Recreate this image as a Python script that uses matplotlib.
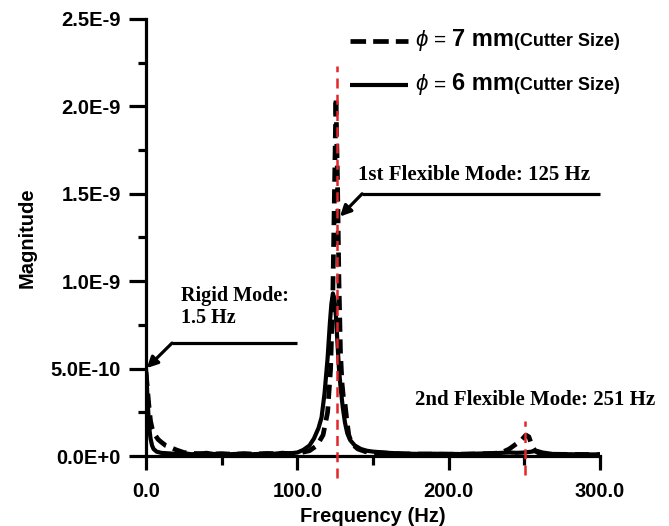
import matplotlib
matplotlib.use("Agg")
import matplotlib.pyplot as plt
from matplotlib.lines import Line2D
from matplotlib.offsetbox import (AnchoredOffsetbox, DrawingArea, HPacker,
                                  TextArea, VPacker)

# ---------------- data ----------------
freq_6mm = [0, 0.5, 1, 1.5, 2, 3, 4, 5, 7, 10, 15, 20, 25, 30, 35, 40, 45, 50, 55, 60,
            65, 70, 75, 80, 85, 90, 95, 100, 104, 108, 111, 114, 116, 118, 120, 121.5,
            122.5, 123.5, 124.5, 125.5, 126.5, 127.5, 128.5, 130, 131.5, 133, 135, 138,
            142, 146, 150, 160, 170, 180, 190, 200, 210, 220, 230, 235, 240, 245, 250,
            255, 258, 262, 266, 270, 280, 290, 300]
mag_6mm = [0.50, 0.42, 0.33, 0.25, 0.17, 0.10, 0.06, 0.04, 0.025, 0.018, 0.015, 0.012,
           0.016, 0.010, 0.013, 0.018, 0.011, 0.014, 0.010, 0.012, 0.015, 0.010, 0.012,
           0.016, 0.013, 0.018, 0.015, 0.020, 0.035, 0.06, 0.10, 0.16, 0.22, 0.36, 0.56,
           0.76, 0.87, 0.93, 0.90, 0.80, 0.65, 0.50, 0.40, 0.28, 0.19, 0.13, 0.09, 0.06,
           0.04, 0.03, 0.025, 0.018, 0.014, 0.012, 0.013, 0.012, 0.011, 0.014, 0.016,
           0.018, 0.020, 0.018, 0.020, 0.025, 0.030, 0.020, 0.015, 0.010, 0.010, 0.009,
           0.009]

freq_7mm = [0, 1, 2, 3, 4, 6, 8, 10, 13, 16, 20, 25, 30, 40, 50, 60, 70, 80, 90, 100,
            108, 113, 117, 120, 122, 123.5, 124.5, 125.5, 126.5, 127.5, 128.5, 129.5,
            130.5, 131.5, 132.5, 134, 136, 140, 145, 150, 170, 200, 220, 230, 235, 240,
            244, 248, 251, 253, 255, 257, 260, 270, 300]
mag_7mm = [0.48, 0.38, 0.28, 0.20, 0.16, 0.12, 0.095, 0.08, 0.06, 0.05, 0.035, 0.02,
           0.015, 0.012, 0.012, 0.011, 0.012, 0.013, 0.014, 0.015, 0.03, 0.06, 0.12,
           0.25, 0.50, 0.95, 1.50, 2.05, 1.60, 1.00, 0.60, 0.42, 0.33, 0.30, 0.22, 0.12,
           0.07, 0.04, 0.025, 0.02, 0.012, 0.010, 0.012, 0.015, 0.020, 0.040, 0.065,
           0.09, 0.12, 0.11, 0.06, 0.03, 0.015, 0.010, 0.008]

scale = 1e-9
mode_freqs = [126.0, 250.5]          # red dashed markers (Hz)
mode_line_top = [2.23, 0.20]         # x1e-9
mode_line_bottom = [-0.126, -0.11]   # x1e-9

xticks = [0, 100, 200, 300]
xtick_labels = ["0.0", "100.0", "200.0", "300.0"]
yticks = [0, 0.5e-9, 1.0e-9, 1.5e-9, 2.0e-9, 2.5e-9]
ytick_labels = ["0.0E+0", "5.0E-10", "1.0E-9", "1.5E-9", "2.0E-9", "2.5E-9"]

legend_sizes = ["7 mm", "6 mm"]
legend_note = "(Cutter Size)"

# annotations
rigid_text = "Rigid Mode:\n1.5 Hz"
rigid_text_xy = (23, 0.761)
rigid_head, rigid_bend, rigid_end = (0.5, 0.503), (17.2, 0.646), (99.8, 0.646)
flex1_text = "1st Flexible Mode: 125 Hz"
flex1_text_xy = (140, 1.579)
flex1_head, flex1_bend, flex1_end = (128.2, 1.37), (142.8, 1.50), (300, 1.50)
flex2_text = "2nd Flexible Mode: 251 Hz"
flex2_text_xy = (177.8, 0.292)

# ---------------- style ----------------
plt.rcParams["font.family"] = ["Liberation Sans", "DejaVu Sans"]
plt.rcParams["mathtext.fontset"] = "custom"
plt.rcParams["mathtext.rm"] = "Liberation Sans"
plt.rcParams["mathtext.it"] = "Liberation Sans:italic"
plt.rcParams["mathtext.bf"] = "Liberation Sans:bold"

W, H = 669, 526
fig = plt.figure(figsize=(W / 100, H / 100), dpi=100)
ax = fig.add_axes([146 / W, (H - 456) / H, 454 / W, 437 / H])

DASH = (3.0, 1.6)
ax.plot(freq_6mm, [v * scale for v in mag_6mm], color="black", lw=3.0,
        solid_capstyle="round", zorder=3)
ax.plot(freq_7mm, [v * scale for v in mag_7mm], color="black", lw=3.4,
        dashes=DASH, zorder=4)
for f, t, b in zip(mode_freqs, mode_line_top, mode_line_bottom):
    ax.plot([f, f], [b * scale, t * scale], color="#e3262b", lw=1.8,
            dashes=(4, 2.5), clip_on=False, zorder=5)

ax.set_xlim(0, 300)
ax.set_ylim(0, 2.5e-9)
ax.set_xticks(xticks)
ax.set_xticklabels(xtick_labels)
ax.set_xticks([50, 150, 250], minor=True)
ax.set_yticks(yticks)
ax.set_yticklabels(ytick_labels)
ax.set_yticks([0.25e-9, 0.75e-9, 1.25e-9, 1.75e-9, 2.25e-9], minor=True)

for s in ["top", "right"]:
    ax.spines[s].set_visible(False)
for s in ["left", "bottom"]:
    ax.spines[s].set_linewidth(2.3)
    ax.spines[s].set_zorder(2)

ax.tick_params(axis="y", which="major", length=12, width=2.3, pad=6,
               labelsize=14.5)
ax.tick_params(axis="y", which="minor", length=6, width=2.3)
ax.tick_params(axis="x", which="major", length=10, width=2.3, pad=9,
               labelsize=14.5)
ax.tick_params(axis="x", which="minor", length=6.5, width=2.3)
for lbl in ax.get_xticklabels() + ax.get_yticklabels():
    lbl.set_fontweight("bold")

ax.set_xlabel("Frequency (Hz)", fontsize=14.5, fontweight="bold", labelpad=4)
ax.set_ylabel("Magnitude", fontsize=14.5, fontweight="bold", labelpad=10)

# legend built from packed boxes (mixed font sizes)
rows = []
for i, size_txt in enumerate(legend_sizes):
    da = DrawingArea(42, 14, 0, 0)
    ln = Line2D([0, 42], [7, 7], color="black", lw=3.4 if i == 0 else 3.0,
                solid_capstyle="butt")
    if i == 0:
        ln.set_dashes((3.3, 1.5))
    da.add_artist(ln)
    phi = TextArea(r"$\phi$", textprops=dict(fontsize=16))
    eq = TextArea("=", textprops=dict(fontsize=15))
    sz = TextArea(size_txt, textprops=dict(fontsize=17, fontweight="bold"))
    note = TextArea(legend_note, textprops=dict(fontsize=13, fontweight="bold"))
    main = HPacker(children=[phi, eq, sz], align="baseline", pad=0, sep=4)
    txt = HPacker(children=[main, note], align="baseline", pad=0, sep=0)
    rows.append(HPacker(children=[da, txt], align="center", pad=0, sep=5))
legbox = VPacker(children=rows, align="left", pad=0, sep=14)
anch = AnchoredOffsetbox(loc="upper left", child=legbox, pad=0, borderpad=0,
                         frameon=False, bbox_to_anchor=(350 / W, 1 - 28 / H),
                         bbox_transform=fig.transFigure)
ax.add_artist(anch)

# annotations
serif = ["Liberation Serif", "DejaVu Serif"]
ax.text(rigid_text_xy[0], rigid_text_xy[1] * scale, rigid_text, family=serif,
        fontsize=14.5, fontweight="bold", va="baseline", ha="left", linespacing=1.15)
ax.text(flex1_text_xy[0], flex1_text_xy[1] * scale, flex1_text, family=serif,
        fontsize=15, fontweight="bold", va="baseline", ha="left")
ax.text(flex2_text_xy[0], flex2_text_xy[1] * scale, flex2_text, family=serif,
        fontsize=15, fontweight="bold", va="baseline", ha="left", clip_on=False)

for head, bend, end in [(rigid_head, rigid_bend, rigid_end),
                        (flex1_head, flex1_bend, flex1_end)]:
    ax.plot([bend[0], end[0]], [bend[1] * scale, end[1] * scale], color="black",
            lw=2.3, solid_capstyle="butt", clip_on=False, zorder=6)
    ax.annotate("", xy=(head[0], head[1] * scale), xytext=(bend[0], bend[1] * scale),
                arrowprops=dict(arrowstyle="-|>", color="black", lw=2.3,
                                mutation_scale=16, shrinkA=0, shrinkB=0),
                zorder=6)

fig.savefig("out.png", dpi=100)
